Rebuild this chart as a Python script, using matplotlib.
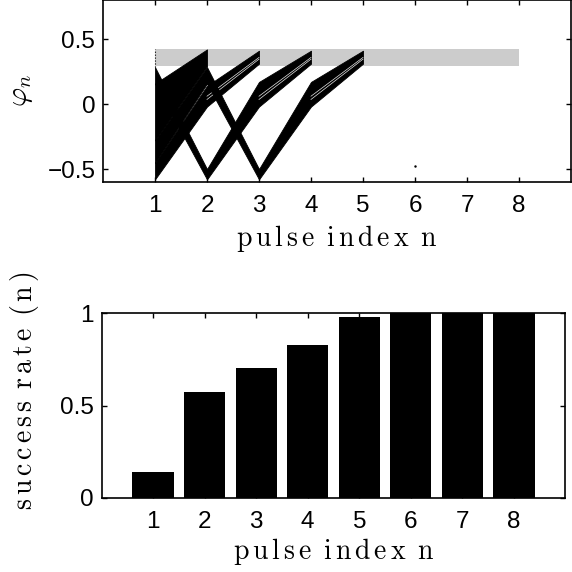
import matplotlib
matplotlib.use("Agg")
import matplotlib.pyplot as plt

plt.rcParams['mathtext.fontset'] = 'cm'
plt.rcParams['font.family'] = ['Liberation Sans', 'DejaVu Sans']
plt.rcParams['axes.unicode_minus'] = True

# ---- data ----
# target band of phases
band_x = [1, 8]
band_lo, band_hi = 0.29, 0.42

# boundary trajectories of each bundle of phase trajectories (phi_n vs n)
s2_lo = [-0.28, 0.29]
s2_hi = [0.157, 0.42]
s3_lo = [-0.58, -0.02, 0.31]
s3_hi = [-0.454, 0.14, 0.41]
s4_lo = [0.157, -0.58, -0.02, 0.31]
s4_hi = [0.284, -0.50, 0.17, 0.41]
s5_lo = [-0.454, 0.157, -0.58, -0.02, 0.31]
s5_hi = [-0.28, 0.284, -0.50, 0.17, 0.41]
s1_phi = [0.284, 0.42]          # starts already inside the band
stray_pt = (6, -0.48)

# thin gaps between neighbouring trajectories in the last rising segment
gap_start = [0.035, 0.06]
gap_end = [0.345, 0.358]

pulses = [1, 2, 3, 4, 5, 6, 7, 8]
success = [0.138, 0.575, 0.702, 0.826, 0.982, 1.0, 1.0, 1.0]

# ---- figure ----
fig = plt.figure(figsize=(5.72, 5.72), dpi=100)
W = H = 572.0
ax1 = fig.add_axes([103 / W, (H - 182) / H, 468 / W, 182 / H])
ax2 = fig.add_axes([101.5 / W, (H - 497.7) / H, 464 / W, 184.4 / H])

tick_fs = 17.5
lab_fs = 20

# top panel
ax1.fill_between(band_x, band_lo, band_hi, color='#cccccc', linewidth=0, zorder=1)
groups = [(s3_lo, s3_hi), (s2_lo, s2_hi), (s4_lo, s4_hi), (s5_lo, s5_hi)]
for k, (lo, hi) in enumerate(groups):
    xs = list(range(1, len(lo) + 1))
    z = 2 + k
    ax1.fill_between(xs, lo, hi, color='k', linewidth=0.6, edgecolor='k', zorder=z)
    if len(lo) >= 3:
        n_last = len(lo)
        for a, b in zip(gap_start, gap_end):
            ax1.plot([n_last - 1, n_last], [a, b], color='white', linewidth=0.5,
                     zorder=z + 0.5, alpha=0.9)
ax1.vlines(1, s1_phi[0], s1_phi[1], colors='k', linewidth=0.8, linestyles=':', zorder=9)
ax1.plot([stray_pt[0]], [stray_pt[1]], 'k.', markersize=1.5, zorder=9)

ax1.set_xlim(0, 9)
ax1.set_ylim(-0.6, 0.8)
ax1.set_xticks(pulses)
ax1.set_yticks([-0.5, 0, 0.5])
ax1.set_yticklabels(['\u22120.5', '0', '0.5'])
ax1.set_ylabel(r'$\varphi_n$', fontsize=21)
ax1.yaxis.set_label_coords(-0.145, 0.5)

# bottom panel
ax2.bar(pulses, success, width=0.8, color='k', zorder=2)
ax2.set_xlim(0, 9)
ax2.set_ylim(0, 1)
ax2.set_xticks(pulses)
ax2.set_yticks([0, 0.5, 1])
ax2.set_yticklabels(['0', '0.5', '1'])
ax2.set_ylabel(r'$\mathrm{s\,u\,c\,c\,e\,s\,s\ \,r\,a\,t\,e\ \,(\,n\,)}$', fontsize=lab_fs)
ax2.yaxis.set_label_coords(-0.13, 0.578)

xl = r'$\mathrm{p\,u\,l\,s\,e\ \,i\,n\,d\,e\,x\ \,n}$'
ax1.set_xlabel(xl, fontsize=lab_fs)
ax1.xaxis.set_label_coords(0.5, -0.225)
ax2.set_xlabel(xl, fontsize=lab_fs)
ax2.xaxis.set_label_coords(0.5, -0.21)

for ax in (ax1, ax2):
    for sp in ax.spines.values():
        sp.set_linewidth(1.2)
        sp.set_zorder(10)
    ax.tick_params(direction='in', length=3.5, width=1.0, top=True, right=True,
                   labelsize=tick_fs)
    ax.tick_params(axis='x', pad=9.5)
    ax.tick_params(axis='y', pad=5.5)

fig.savefig('out.png', dpi=100)
